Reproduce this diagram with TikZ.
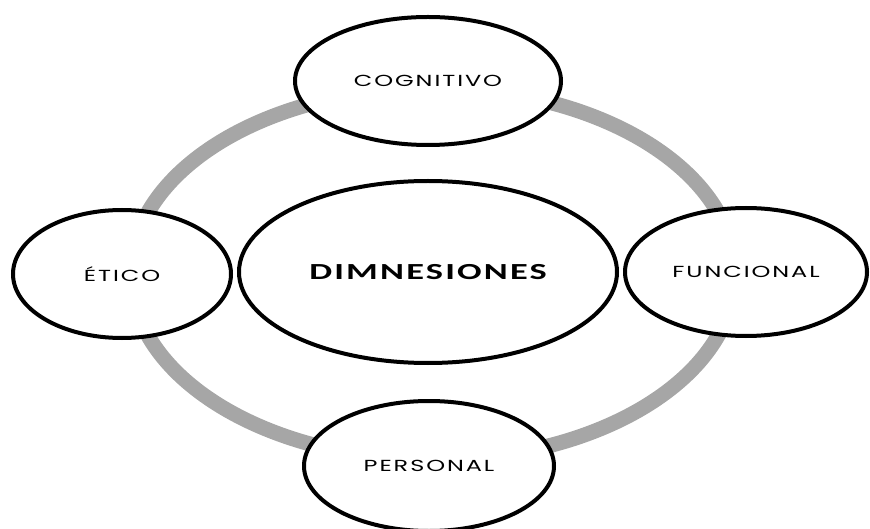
\documentclass[tikz,border=0pt]{standalone}
\usepackage{fontspec}
\usetikzlibrary{shapes.geometric}
\newfontfamily\lblfont{Poppins}[LetterSpace=8]
\newfontfamily\dimfont{Carlito}[LetterSpace=6]
\newcommand{\wtx}[1]{\scalebox{1.5}[1]{#1}}
\colorlet{rnggray}{black!35}
\tikzset{dgp/.style={
  x=1pt,
  y=-1pt
}}
\tikzset{dmn/.style={
  draw,
  fill=white,
  shape=ellipse,
  line width=4pt,
  inner sep=0pt,
}}
\tikzset{lbl/.style={
  dmn,
  font=\lblfont\fontsize{16}{18}\selectfont,
}}
\tikzset{rng/.style={
  draw=rnggray,
  line width=15pt
}}

\begin{document}
\begin{tikzpicture}[dgp]

    \useasboundingbox (0,0) rectangle (870,529);

    % Ring behind
    \draw[rng] (433,274) ellipse [x radius=302, y radius=186];

    % Centre
    \node[dmn, minimum width=378, minimum height=182,
      font=\dimfont\bfseries\fontsize{23}{25}\selectfont] (dim) at (428,272)
      {\scalebox{1.58}[1]{DIMNESIONES}};

    % Outer nodes
    \node[lbl, minimum width=266, minimum height=128] (cog) at (428,81) {\wtx{COGNITIVO}};
    \node[lbl, minimum width=218, minimum height=128] (eti) at (122,274) {\wtx{ÉTICO}};
    \node[lbl, minimum width=242, minimum height=128] (fun) at (746,272) {\wtx{FUNCIONAL}};
    \node[lbl, minimum width=250, minimum height=130] (per) at (429,466) {\wtx{PERSONAL}};

  \end{tikzpicture}
\end{document}
